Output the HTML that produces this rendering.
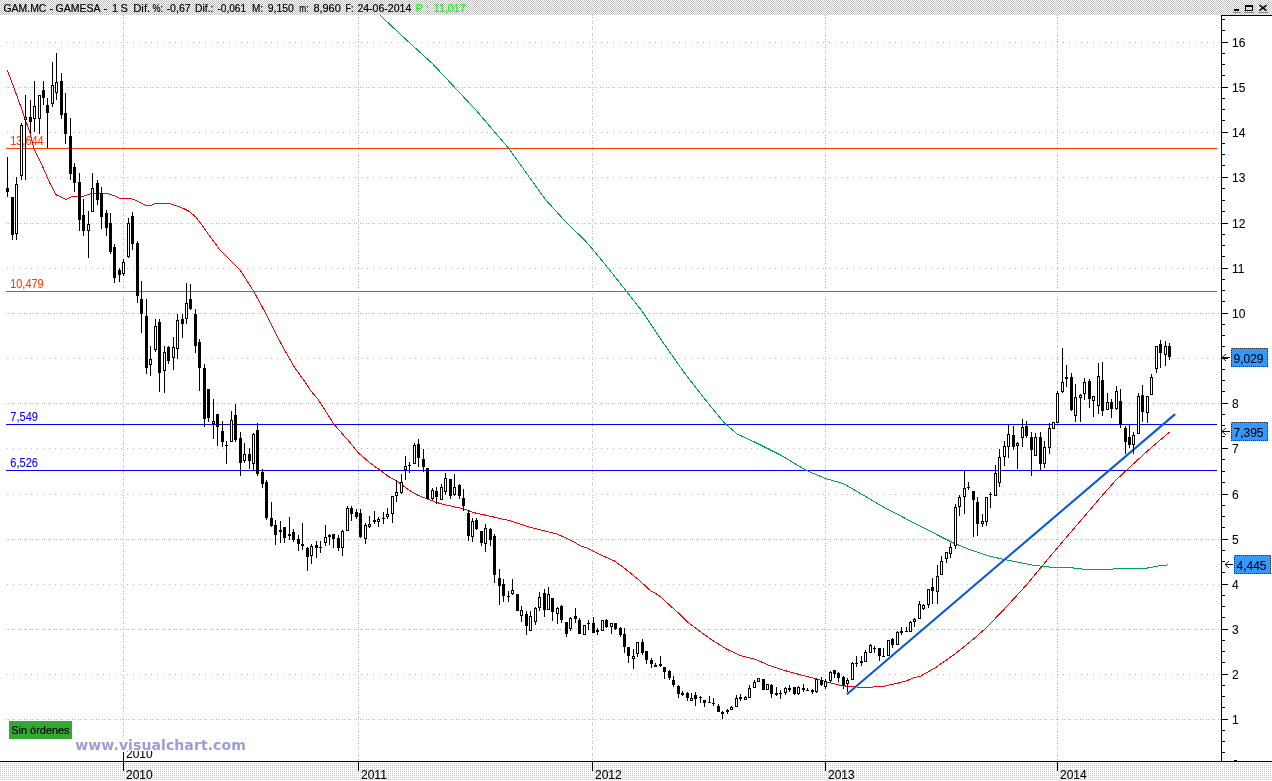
<!DOCTYPE html>
<html><head><meta charset="utf-8"><title>GAM.MC - GAMESA</title>
<style>
html,body{margin:0;padding:0;background:#fff;overflow:hidden}
svg{display:block;position:absolute;left:0;top:0;will-change:transform}
text{font-family:"Liberation Sans",Arial,sans-serif;font-size:12px;color:#000;fill:currentColor;stroke:currentColor;stroke-width:0.08px}
.h{font-size:11px;stroke-width:0.2px}
.wm{font-family:"DejaVu Sans","Liberation Sans",sans-serif;font-weight:bold;font-size:14px;color:#9c9cda;stroke:none}
</style></head><body>
<svg width="1272" height="781" viewBox="0 0 1272 781" shape-rendering="crispEdges">
<defs>
<pattern id="chk" width="2" height="2" patternUnits="userSpaceOnUse"><rect width="2" height="2" fill="#fff"/><rect width="1" height="1" fill="#c0c0c0"/><rect x="1" y="1" width="1" height="1" fill="#c0c0c0"/></pattern>
<pattern id="dot" width="2" height="2" patternUnits="userSpaceOnUse"><rect width="2" height="2" fill="#fff"/><rect x="0" y="1" width="1" height="1" fill="#c8c8c8"/></pattern>
<clipPath id="yc"><rect x="120" y="751" width="40" height="10"/></clipPath>
</defs>
<rect width="1272" height="781" fill="#fff"/>
<rect x="0" y="0" width="1272" height="15" fill="url(#chk)"/>
<rect x="0" y="762" width="1272" height="19" fill="url(#dot)"/>
<g stroke="#c0c0c0" stroke-width="1" fill="none">
<line x1="6" y1="719.5" x2="1221" y2="719.5" stroke-dasharray="1 1 1 3"/><line x1="7" y1="674.5" x2="1221" y2="674.5" stroke-dasharray="1 5"/><line x1="6" y1="629.5" x2="1221" y2="629.5" stroke-dasharray="1 1 1 3"/><line x1="7" y1="584.5" x2="1221" y2="584.5" stroke-dasharray="1 5"/><line x1="6" y1="539.5" x2="1221" y2="539.5" stroke-dasharray="1 1 1 3"/><line x1="7" y1="494.5" x2="1221" y2="494.5" stroke-dasharray="1 5"/><line x1="7" y1="448.5" x2="1221" y2="448.5" stroke-dasharray="1 5"/><line x1="6" y1="403.5" x2="1221" y2="403.5" stroke-dasharray="1 1 1 3"/><line x1="7" y1="358.5" x2="1221" y2="358.5" stroke-dasharray="1 5"/><line x1="6" y1="313.5" x2="1221" y2="313.5" stroke-dasharray="1 1 1 3"/><line x1="7" y1="268.5" x2="1221" y2="268.5" stroke-dasharray="1 5"/><line x1="6" y1="223.5" x2="1221" y2="223.5" stroke-dasharray="1 1 1 3"/><line x1="7" y1="177.5" x2="1221" y2="177.5" stroke-dasharray="1 5"/><line x1="7" y1="132.5" x2="1221" y2="132.5" stroke-dasharray="1 5"/><line x1="6" y1="87.5" x2="1221" y2="87.5" stroke-dasharray="1 1 1 3"/><line x1="7" y1="42.5" x2="1221" y2="42.5" stroke-dasharray="1 5"/><line x1="123.5" y1="15" x2="123.5" y2="761" stroke-dasharray="1 1 1 3"/><line x1="358.5" y1="15" x2="358.5" y2="761" stroke-dasharray="1 1 1 3"/><line x1="592.5" y1="15" x2="592.5" y2="761" stroke-dasharray="1 1 1 3"/><line x1="825.5" y1="15" x2="825.5" y2="761" stroke-dasharray="1 1 1 3"/><line x1="1057.5" y1="15" x2="1057.5" y2="761" stroke-dasharray="1 1 1 3"/>
</g>
<rect x="75" y="738" width="171" height="14" fill="#fff"/>
<!-- horizontal levels -->
<rect x="6" y="148" width="1211" height="1" fill="#ff3c00"/>
<rect x="6" y="291" width="1211" height="1" fill="#ff3c00"/>
<rect x="6" y="424" width="1211" height="1" fill="#0000ff"/>
<rect x="6" y="470" width="1211" height="1" fill="#0000ff"/>
<g style="font-size:12px"><text x="10.2" y="144.7" textLength="33.5" lengthAdjust="spacingAndGlyphs" style="color:#ff3c00">13,644</text>
<text x="10.2" y="287.9" textLength="33.5" lengthAdjust="spacingAndGlyphs" style="color:#ff3c00">10,479</text>
<text x="10.3" y="420.7" textLength="27.6" lengthAdjust="spacingAndGlyphs" style="color:#0000ff">7,549</text>
<text x="10.3" y="466.7" textLength="27.6" lengthAdjust="spacingAndGlyphs" style="color:#0000ff">6,526</text></g>
<!-- moving averages -->
<polyline points="379.5,14.7 404.0,37.7 432.3,63.5 454.3,87.0 476.4,110.6 495.2,132.6 509.4,149.3 526.7,173.5 545.5,199.6 567.5,223.8 584.7,240.0 597.4,255.0 608.3,268.3 625.6,290.3 642.9,312.3 661.8,340.6 683.8,372.1 705.8,400.4 724.7,423.3 737.2,434.0 756.1,442.8 781.3,455.4 806.4,470.5 825.3,478.4 843.5,483.7 857.7,491.9 882.9,506.7 905.0,518.3 923.9,528.1 939.0,535.7 954.0,543.2 969.2,549.4 989.9,556.4 1010.7,560.8 1033.3,565.3 1052.2,567.4 1071.0,567.7 1082.4,569.1 1112.5,569.1 1114.4,568.1 1147.0,568.1 1159.6,565.8 1168.4,564.8" fill="none" stroke="#00a550" stroke-width="1"/>
<polyline points="7.3,70.2 14.0,88.0 22.0,110.0 30.2,133.7 34.0,148.9 41.5,164.0 49.7,182.8 56.0,194.8 66.0,199.4 72.3,196.4 83.0,196.4 91.8,193.3 106.9,193.3 113.2,195.4 121.4,198.9 127.7,198.2 133.3,199.2 145.9,205.5 150.9,205.5 155.5,203.2 168.9,203.2 175.5,205.5 181.1,207.4 188.7,211.1 196.2,217.4 202.8,226.2 209.4,235.7 217.0,245.7 219.8,250.0 228.3,258.5 240.6,270.8 253.8,291.5 265.1,312.3 275.5,333.0 284.0,349.1 294.3,367.0 305.7,383.0 310.2,390.0 318.1,399.4 334.2,424.5 350.2,442.8 358.7,453.2 370.9,463.6 381.3,471.1 387.9,476.2 396.4,480.6 408.7,490.0 418.1,495.3 427.5,499.1 437.0,502.6 446.4,505.1 463.2,508.7 474.5,512.8 487.7,515.7 510.4,520.8 527.4,526.6 544.3,530.8 557.5,534.2 572.6,541.1 580.2,545.8 587.7,548.3 596.2,552.8 614.2,560.9 623.6,567.5 638.7,579.8 650.0,590.2 659.4,595.8 670.8,606.2 680.0,614.5 687.5,622.0 698.9,630.6 712.0,640.0 727.2,649.4 740.4,655.5 755.5,659.4 770.6,666.0 785.7,670.8 800.8,674.9 815.8,678.7 830.9,683.0 842.3,685.7 853.6,686.8 866.8,687.5 883.8,686.2 897.0,683.4 906.4,680.9 914.0,677.7 920.0,676.4 936.4,667.0 955.2,653.8 974.1,638.5 987.1,627.0 1005.0,608.3 1025.8,585.7 1044.6,563.0 1065.4,538.5 1082.4,518.7 1099.3,498.9 1116.0,480.0 1145.0,453.2 1169.5,432.0" fill="none" stroke="#ff0000" stroke-width="1"/>
<!-- trend line -->
<line x1="847.5" y1="693.8" x2="1174.5" y2="414.6" stroke="#0a5ad6" stroke-width="2.1" shape-rendering="auto" stroke-linecap="round"/>
<!-- candles -->
<path d="M7 157h1v40h-1zM6 188h3v4h-3zM12 197h1v43h-1zM11 197h3v38h-3zM16 177h1v63h-1zM15 184h3v50h-3zM21 123h1v57h-1zM20 125h3v51h-3zM25 95h1v85h-1zM24 117h3v3h-3zM30 100h1v34h-1zM29 117h3v5h-3zM34 81h1v51h-1zM33 106h3v13h-3zM39 95h1v39h-1zM38 95h3v24h-3zM43 81h1v24h-1zM42 90h3v8h-3zM47 98h1v50h-1zM46 105h3v8h-3zM52 62h1v45h-1zM51 85h3v19h-3zM56 53h1v47h-1zM55 82h3v11h-3zM61 73h1v46h-1zM60 81h3v34h-3zM65 93h1v51h-1zM64 113h3v21h-3zM70 118h1v62h-1zM69 136h3v38h-3zM74 163h1v29h-1zM73 167h3v16h-3zM79 173h1v58h-1zM78 182h3v38h-3zM83 199h1v37h-1zM82 215h3v16h-3zM88 211h1v47h-1zM87 224h3v7h-3zM92 173h1v39h-1zM91 188h3v24h-3zM97 180h1v25h-1zM96 183h3v17h-3zM101 187h1v42h-1zM100 193h3v24h-3zM106 210h1v26h-1zM105 213h3v15h-3zM110 213h1v41h-1zM109 223h3v29h-3zM114 244h1v39h-1zM113 247h3v31h-3zM119 268h1v14h-1zM118 270h3v5h-3zM123 259h1v17h-1zM122 262h3v12h-3zM128 218h1v40h-1zM127 223h3v34h-3zM132 212h1v38h-1zM131 216h3v28h-3zM137 241h1v62h-1zM136 243h3v53h-3zM141 281h1v52h-1zM140 299h3v15h-3zM146 299h1v75h-1zM145 316h3v52h-3zM150 346h1v30h-1zM149 359h3v6h-3zM155 319h1v33h-1zM154 326h3v24h-3zM159 319h1v73h-1zM158 322h3v51h-3zM164 346h1v47h-1zM163 352h3v19h-3zM168 346h1v18h-1zM167 347h3v14h-3zM173 337h1v33h-1zM172 347h3v11h-3zM177 314h1v45h-1zM176 320h3v29h-3zM182 314h1v24h-1zM181 319h3v5h-3zM186 283h1v41h-1zM185 303h3v16h-3zM190 284h1v26h-1zM189 299h3v10h-3zM195 309h1v44h-1zM194 314h3v32h-3zM199 339h1v52h-1zM198 342h3v26h-3zM204 364h1v63h-1zM203 368h3v51h-3zM208 389h1v33h-1zM207 389h3v29h-3zM213 399h1v40h-1zM212 421h3v3h-3zM217 414h1v32h-1zM216 414h3v13h-3zM222 421h1v26h-1zM221 431h3v11h-3zM226 441h1v23h-1zM225 445h3v1h-3zM231 411h1v31h-1zM230 420h3v22h-3zM235 404h1v38h-1zM234 415h3v25h-3zM240 432h1v44h-1zM239 438h3v25h-3zM244 443h1v20h-1zM243 454h3v7h-3zM249 448h1v21h-1zM248 454h3v7h-3zM253 433h1v37h-1zM252 434h3v30h-3zM257 423h1v53h-1zM256 430h3v44h-3zM262 469h1v19h-1zM261 472h3v12h-3zM266 480h1v40h-1zM265 482h3v36h-3zM271 502h1v25h-1zM270 518h3v8h-3zM275 520h1v25h-1zM274 525h3v10h-3zM280 521h1v22h-1zM279 530h3v2h-3zM284 527h1v16h-1zM283 527h3v11h-3zM289 517h1v23h-1zM288 534h3v2h-3zM293 529h1v13h-1zM292 532h3v8h-3zM298 535h1v16h-1zM297 539h3v5h-3zM302 523h1v27h-1zM301 544h3v2h-3zM307 547h1v24h-1zM306 548h3v9h-3zM311 544h1v20h-1zM310 546h3v10h-3zM316 541h1v17h-1zM315 545h3v3h-3zM320 541h1v12h-1zM319 547h3v1h-3zM325 525h1v21h-1zM324 537h3v6h-3zM329 534h1v11h-1zM328 535h3v2h-3zM333 534h1v14h-1zM332 534h3v5h-3zM338 535h1v16h-1zM337 538h3v10h-3zM342 530h1v26h-1zM341 531h3v17h-3zM347 506h1v25h-1zM346 508h3v23h-3zM351 506h1v15h-1zM350 508h3v6h-3zM356 509h1v10h-1zM355 512h3v5h-3zM360 509h1v29h-1zM359 513h3v24h-3zM365 523h1v21h-1zM364 525h3v14h-3zM369 516h1v12h-1zM368 524h3v3h-3zM374 511h1v13h-1zM373 520h3v2h-3zM378 517h1v10h-1zM377 519h3v3h-3zM383 512h1v12h-1zM382 518h3v1h-3zM387 508h1v11h-1zM386 514h3v3h-3zM392 496h1v27h-1zM391 496h3v18h-3zM396 480h1v22h-1zM395 492h3v4h-3zM401 474h1v20h-1zM400 482h3v11h-3zM405 456h1v24h-1zM404 466h3v4h-3zM409 462h1v11h-1zM408 465h3v1h-3zM414 443h1v21h-1zM413 445h3v19h-3zM418 439h1v28h-1zM417 444h3v14h-3zM423 449h1v23h-1zM422 459h3v8h-3zM427 468h1v31h-1zM426 468h3v31h-3zM432 488h1v12h-1zM431 490h3v9h-3zM436 487h1v17h-1zM435 491h3v6h-3zM441 484h1v16h-1zM440 487h3v13h-3zM445 473h1v22h-1zM444 478h3v14h-3zM450 479h1v20h-1zM449 479h3v17h-3zM454 474h1v22h-1zM453 487h3v8h-3zM459 484h1v15h-1zM458 485h3v11h-3zM463 489h1v22h-1zM462 498h3v8h-3zM468 510h1v31h-1zM467 513h3v23h-3zM472 518h1v24h-1zM471 521h3v16h-3zM476 518h1v12h-1zM475 520h3v9h-3zM481 531h1v15h-1zM480 531h3v12h-3zM485 524h1v28h-1zM484 528h3v16h-3zM490 528h1v18h-1zM489 529h3v11h-3zM494 534h1v49h-1zM493 536h3v39h-3zM499 569h1v36h-1zM498 578h3v8h-3zM503 579h1v23h-1zM502 584h3v12h-3zM508 591h1v11h-1zM507 596h3v1h-3zM512 579h1v16h-1zM511 590h3v4h-3zM517 594h1v17h-1zM516 594h3v17h-3zM521 606h1v16h-1zM520 610h3v6h-3zM526 611h1v24h-1zM525 614h3v12h-3zM530 611h1v20h-1zM529 616h3v15h-3zM535 607h1v18h-1zM534 608h3v14h-3zM539 592h1v19h-1zM538 597h3v11h-3zM544 589h1v28h-1zM543 593h3v17h-3zM548 587h1v23h-1zM547 594h3v16h-3zM552 598h1v23h-1zM551 598h3v14h-3zM557 607h1v17h-1zM556 608h3v6h-3zM561 605h1v18h-1zM560 606h3v14h-3zM566 622h1v15h-1zM565 622h3v12h-3zM570 617h1v14h-1zM569 618h3v11h-3zM575 608h1v15h-1zM574 616h3v3h-3zM579 618h1v16h-1zM578 620h3v14h-3zM584 625h1v10h-1zM583 625h3v10h-3zM588 620h1v10h-1zM587 623h3v1h-3zM593 617h1v16h-1zM592 623h3v10h-3zM597 628h1v7h-1zM596 630h3v2h-3zM602 620h1v11h-1zM601 620h3v11h-3zM606 619h1v9h-1zM605 620h3v7h-3zM611 623h1v11h-1zM610 623h3v4h-3zM615 623h1v7h-1zM614 623h3v6h-3zM620 627h1v10h-1zM619 628h3v7h-3zM624 628h1v25h-1zM623 634h3v13h-3zM628 647h1v16h-1zM627 647h3v9h-3zM633 649h1v20h-1zM632 656h3v3h-3zM637 642h1v15h-1zM636 642h3v12h-3zM642 639h1v16h-1zM641 642h3v11h-3zM646 651h1v13h-1zM645 651h3v9h-3zM651 658h1v10h-1zM650 660h3v4h-3zM655 663h1v4h-1zM654 665h3v2h-3zM660 656h1v11h-1zM659 664h3v2h-3zM664 667h1v12h-1zM663 667h3v5h-3zM669 670h1v10h-1zM668 671h3v7h-3zM673 676h1v11h-1zM672 680h3v5h-3zM678 685h1v13h-1zM677 686h3v8h-3zM682 691h1v5h-1zM681 693h3v2h-3zM687 692h1v9h-1zM686 693h3v5h-3zM691 693h1v8h-1zM690 698h3v3h-3zM695 692h1v14h-1zM694 695h3v4h-3zM700 696h1v7h-1zM699 697h3v1h-3zM704 700h1v7h-1zM703 700h3v3h-3zM709 696h1v7h-1zM708 702h3v1h-3zM713 698h1v8h-1zM712 703h3v1h-3zM718 704h1v8h-1zM717 706h3v6h-3zM722 711h1v8h-1zM721 712h3v2h-3zM727 709h1v5h-1zM726 710h3v2h-3zM731 706h1v4h-1zM730 707h3v3h-3zM736 695h1v12h-1zM735 698h3v9h-3zM740 694h1v7h-1zM739 697h3v2h-3zM745 696h1v4h-1zM744 697h3v3h-3zM749 685h1v13h-1zM748 688h3v10h-3zM754 680h1v8h-1zM753 682h3v6h-3zM758 678h1v4h-1zM757 678h3v4h-3zM763 679h1v11h-1zM762 679h3v11h-3zM767 684h1v6h-1zM766 684h3v6h-3zM771 684h1v14h-1zM770 685h3v9h-3zM776 687h1v9h-1zM775 693h3v2h-3zM780 690h1v9h-1zM779 693h3v1h-3zM785 687h1v8h-1zM784 688h3v5h-3zM789 685h1v7h-1zM788 688h3v2h-3zM794 687h1v8h-1zM793 687h3v7h-3zM798 686h1v9h-1zM797 687h3v7h-3zM803 684h1v8h-1zM802 688h3v2h-3zM807 688h1v3h-1zM806 690h3v1h-3zM812 689h1v5h-1zM811 690h3v2h-3zM816 678h1v15h-1zM815 679h3v13h-3zM821 677h1v9h-1zM820 680h3v5h-3zM825 679h1v10h-1zM824 681h3v6h-3zM830 671h1v12h-1zM829 672h3v9h-3zM834 670h1v8h-1zM833 670h3v4h-3zM838 672h1v10h-1zM837 673h3v5h-3zM843 676h1v13h-1zM842 677h3v8h-3zM847 678h1v14h-1zM846 680h3v4h-3zM852 662h1v18h-1zM851 663h3v17h-3zM856 656h1v11h-1zM855 663h3v1h-3zM861 656h1v10h-1zM860 661h3v2h-3zM865 650h1v12h-1zM864 652h3v10h-3zM870 644h1v9h-1zM869 645h3v8h-3zM874 646h1v7h-1zM873 648h3v1h-3zM879 648h1v13h-1zM878 648h3v8h-3zM883 648h1v9h-1zM882 656h3v1h-3zM888 640h1v16h-1zM887 640h3v16h-3zM892 638h1v10h-1zM891 639h3v6h-3zM897 631h1v14h-1zM896 632h3v13h-3zM901 627h1v8h-1zM900 631h3v2h-3zM906 627h1v5h-1zM905 631h3v1h-3zM910 621h1v11h-1zM909 622h3v10h-3zM914 618h1v9h-1zM913 619h3v3h-3zM919 601h1v18h-1zM918 604h3v15h-3zM923 604h1v6h-1zM922 605h3v4h-3zM928 589h1v19h-1zM927 589h3v16h-3zM932 578h1v26h-1zM931 587h3v4h-3zM937 565h1v39h-1zM936 576h3v16h-3zM941 556h1v19h-1zM940 561h3v14h-3zM946 552h1v11h-1zM945 552h3v7h-3zM950 543h1v15h-1zM949 547h3v7h-3zM955 504h1v45h-1zM954 507h3v39h-3zM959 495h1v21h-1zM958 497h3v10h-3zM964 471h1v43h-1zM963 488h3v9h-3zM968 482h1v8h-1zM967 487h3v1h-3zM973 491h1v46h-1zM972 491h3v9h-3zM977 497h1v39h-1zM976 502h3v22h-3zM982 514h1v13h-1zM981 521h3v3h-3zM986 497h1v29h-1zM985 497h3v25h-3zM990 492h1v16h-1zM989 494h3v1h-3zM995 465h1v31h-1zM994 473h3v23h-3zM999 449h1v38h-1zM998 457h3v26h-3zM1004 441h1v25h-1zM1003 446h3v11h-3zM1008 425h1v33h-1zM1007 434h3v13h-3zM1013 426h1v24h-1zM1012 435h3v12h-3zM1017 442h1v27h-1zM1016 443h3v3h-3zM1022 419h1v28h-1zM1021 427h3v11h-3zM1026 421h1v17h-1zM1025 426h3v10h-3zM1031 432h1v44h-1zM1030 437h3v13h-3zM1035 433h1v23h-1zM1034 437h3v19h-3zM1040 432h1v38h-1zM1039 437h3v27h-3zM1044 441h1v27h-1zM1043 447h3v17h-3zM1049 423h1v31h-1zM1048 428h3v20h-3zM1053 422h1v7h-1zM1052 422h3v7h-3zM1057 391h1v32h-1zM1056 393h3v30h-3zM1062 348h1v45h-1zM1061 382h3v10h-3zM1066 365h1v22h-1zM1065 377h3v2h-3zM1071 373h1v38h-1zM1070 377h3v33h-3zM1075 384h1v38h-1zM1074 397h3v19h-3zM1080 394h1v28h-1zM1079 395h3v3h-3zM1084 378h1v22h-1zM1083 382h3v12h-3zM1089 379h1v29h-1zM1088 381h3v18h-3zM1093 396h1v21h-1zM1092 396h3v5h-3zM1098 363h1v51h-1zM1097 376h3v30h-3zM1102 362h1v54h-1zM1101 380h3v31h-3zM1107 393h1v17h-1zM1106 402h3v8h-3zM1111 399h1v19h-1zM1110 402h3v7h-3zM1116 386h1v24h-1zM1115 391h3v18h-3zM1120 389h1v39h-1zM1119 401h3v23h-3zM1125 426h1v28h-1zM1124 428h3v14h-3zM1129 425h1v23h-1zM1128 437h3v8h-3zM1133 432h1v22h-1zM1132 435h3v10h-3zM1138 393h1v41h-1zM1137 396h3v38h-3zM1142 385h1v37h-1zM1141 395h3v17h-3zM1147 396h1v27h-1zM1146 396h3v17h-3zM1151 374h1v21h-1zM1150 377h3v18h-3zM1156 346h1v27h-1zM1155 346h3v23h-3zM1160 340h1v28h-1zM1159 344h3v9h-3zM1165 341h1v25h-1zM1164 346h3v9h-3zM1169 343h1v17h-1zM1168 346h3v11h-3z" fill="#000"/>
<path d="M16 185h1v48h-1zM21 126h1v49h-1zM25 118h1v1h-1zM34 107h1v11h-1zM39 96h1v22h-1zM52 86h1v17h-1zM56 83h1v9h-1zM88 225h1v5h-1zM92 189h1v22h-1zM123 263h1v10h-1zM128 224h1v32h-1zM150 360h1v4h-1zM155 327h1v22h-1zM164 353h1v17h-1zM173 348h1v9h-1zM177 321h1v27h-1zM186 304h1v14h-1zM213 422h1v1h-1zM231 421h1v20h-1zM244 455h1v5h-1zM253 435h1v28h-1zM311 547h1v8h-1zM325 538h1v4h-1zM342 532h1v15h-1zM347 509h1v21h-1zM365 526h1v12h-1zM369 525h1v1h-1zM378 520h1v1h-1zM387 515h1v1h-1zM392 497h1v16h-1zM396 493h1v2h-1zM401 483h1v9h-1zM405 467h1v2h-1zM414 446h1v17h-1zM432 491h1v7h-1zM441 488h1v11h-1zM445 479h1v12h-1zM454 488h1v6h-1zM472 522h1v14h-1zM485 529h1v14h-1zM512 591h1v2h-1zM521 611h1v4h-1zM530 617h1v13h-1zM535 609h1v12h-1zM539 598h1v9h-1zM548 595h1v14h-1zM557 609h1v4h-1zM570 619h1v9h-1zM584 626h1v8h-1zM602 621h1v9h-1zM611 624h1v2h-1zM633 657h1v1h-1zM637 643h1v10h-1zM691 699h1v1h-1zM731 708h1v1h-1zM736 699h1v7h-1zM745 698h1v1h-1zM749 689h1v8h-1zM754 683h1v4h-1zM758 679h1v2h-1zM767 685h1v4h-1zM785 689h1v3h-1zM798 688h1v5h-1zM816 680h1v11h-1zM825 682h1v4h-1zM830 673h1v7h-1zM847 681h1v2h-1zM852 664h1v15h-1zM865 653h1v8h-1zM870 646h1v6h-1zM888 641h1v14h-1zM897 633h1v11h-1zM910 623h1v8h-1zM914 620h1v1h-1zM919 605h1v13h-1zM923 606h1v2h-1zM928 590h1v14h-1zM937 577h1v14h-1zM941 562h1v12h-1zM946 553h1v5h-1zM950 548h1v5h-1zM955 508h1v37h-1zM959 498h1v8h-1zM964 489h1v7h-1zM982 522h1v1h-1zM986 498h1v23h-1zM995 474h1v21h-1zM999 458h1v24h-1zM1004 447h1v9h-1zM1008 435h1v11h-1zM1017 444h1v1h-1zM1022 428h1v9h-1zM1035 438h1v17h-1zM1044 448h1v15h-1zM1049 429h1v18h-1zM1053 423h1v5h-1zM1057 394h1v28h-1zM1062 383h1v8h-1zM1075 398h1v17h-1zM1080 396h1v1h-1zM1084 383h1v10h-1zM1093 397h1v3h-1zM1098 377h1v28h-1zM1107 403h1v6h-1zM1116 392h1v16h-1zM1133 436h1v8h-1zM1138 397h1v36h-1zM1147 397h1v15h-1zM1151 378h1v16h-1zM1156 347h1v21h-1zM1165 347h1v7h-1z" fill="#fff"/>
<!-- axes -->
<rect x="1221" y="15" width="1" height="747" fill="#000"/>
<rect x="1221" y="15" width="51" height="1" fill="#000"/>
<rect x="0" y="761" width="1272" height="1" fill="#000"/>
<path d="M1221 730h4v1h-4zM1221 741h4v1h-4zM1221 752h4v1h-4zM1221 719h7v1h-7zM1221 685h4v1h-4zM1221 696h4v1h-4zM1221 707h4v1h-4zM1221 674h7v1h-7zM1221 640h4v1h-4zM1221 651h4v1h-4zM1221 662h4v1h-4zM1221 629h7v1h-7zM1221 595h4v1h-4zM1221 606h4v1h-4zM1221 617h4v1h-4zM1221 584h7v1h-7zM1221 550h4v1h-4zM1221 561h4v1h-4zM1221 572h4v1h-4zM1221 539h7v1h-7zM1221 505h4v1h-4zM1221 516h4v1h-4zM1221 527h4v1h-4zM1221 494h7v1h-7zM1221 459h4v1h-4zM1221 471h4v1h-4zM1221 482h4v1h-4zM1221 448h7v1h-7zM1221 414h4v1h-4zM1221 425h4v1h-4zM1221 436h4v1h-4zM1221 403h7v1h-7zM1221 369h4v1h-4zM1221 380h4v1h-4zM1221 391h4v1h-4zM1221 358h7v1h-7zM1221 324h4v1h-4zM1221 335h4v1h-4zM1221 346h4v1h-4zM1221 313h7v1h-7zM1221 279h4v1h-4zM1221 290h4v1h-4zM1221 301h4v1h-4zM1221 268h7v1h-7zM1221 234h4v1h-4zM1221 245h4v1h-4zM1221 256h4v1h-4zM1221 223h7v1h-7zM1221 188h4v1h-4zM1221 200h4v1h-4zM1221 211h4v1h-4zM1221 177h7v1h-7zM1221 143h4v1h-4zM1221 154h4v1h-4zM1221 165h4v1h-4zM1221 132h7v1h-7zM1221 98h4v1h-4zM1221 109h4v1h-4zM1221 120h4v1h-4zM1221 87h7v1h-7zM1221 53h4v1h-4zM1221 64h4v1h-4zM1221 75h4v1h-4zM1221 42h7v1h-7zM1221 19h4v1h-4zM1221 30h4v1h-4z" fill="#000"/>
<text x="1232" y="724">1</text><text x="1232" y="679">2</text><text x="1232" y="634">3</text><text x="1232" y="589">4</text><text x="1232" y="544">5</text><text x="1232" y="499">6</text><text x="1232" y="453">7</text><text x="1232" y="408">8</text><text x="1232" y="363">9</text><text x="1232" y="318">10</text><text x="1232" y="273">11</text><text x="1232" y="228">12</text><text x="1232" y="182">13</text><text x="1232" y="137">14</text><text x="1232" y="92">15</text><text x="1232" y="47">16</text>
<rect x="123" y="761" width="1" height="10" fill="#000"/><text x="126" y="779">2010</text><rect x="358" y="761" width="1" height="10" fill="#000"/><text x="361" y="779">2011</text><rect x="592" y="761" width="1" height="10" fill="#000"/><text x="595" y="779">2012</text><rect x="825" y="761" width="1" height="10" fill="#000"/><text x="828" y="779">2013</text><rect x="1057" y="761" width="1" height="10" fill="#000"/><text x="1060" y="779">2014</text>
<rect x="123" y="752" width="1" height="19" fill="#000"/>
<g clip-path="url(#yc)"><text x="126" y="758">2010</text></g>
<rect x="1234" y="760" width="3" height="1" fill="#000"/>
<!-- value boxes -->
<rect x="1231" y="348" width="37" height="19" fill="#3399ff"/><rect x="1231.5" y="348.5" width="36" height="18" fill="none" stroke="#2a2a2a" stroke-dasharray="1 1"/><text x="1233.5" y="363">9,029</text><path d="M1222 357.5h8M1226 354.0L1222 357.5L1226 361.0" fill="none" stroke="#111" stroke-width="1" shape-rendering="auto"/>
<rect x="1231" y="422" width="37" height="19" fill="#3399ff"/><rect x="1231.5" y="422.5" width="36" height="18" fill="none" stroke="#2a2a2a" stroke-dasharray="1 1"/><text x="1233.5" y="437">7,395</text><path d="M1222 431.5h8M1226 428.0L1222 431.5L1226 435.0" fill="none" stroke="#111" stroke-width="1" shape-rendering="auto"/>
<rect x="1234" y="555" width="37" height="19" fill="#3399ff"/><rect x="1234.5" y="555.5" width="36" height="18" fill="none" stroke="#2a2a2a" stroke-dasharray="1 1"/><text x="1236.5" y="570">4,445</text><path d="M1225 564.5h8M1229 561.0L1225 564.5L1229 568.0" fill="none" stroke="#111" stroke-width="1" shape-rendering="auto"/>
<!-- header -->
<text class="h" x="3.5" y="11.5" textLength="42.9" lengthAdjust="spacingAndGlyphs">GAM.MC</text><text class="h" x="51.3" y="11.5" text-anchor="middle">-</text><text class="h" x="55.5" y="11.5" textLength="45.0" lengthAdjust="spacingAndGlyphs">GAMESA</text><text class="h" x="105.3" y="11.5" text-anchor="middle">-</text><text class="h" x="115.1" y="11.5" text-anchor="middle">1</text><text class="h" x="124.2" y="11.5" text-anchor="middle">S</text><text class="h" x="133.2" y="11.5" textLength="17.0" lengthAdjust="spacingAndGlyphs">Dif.</text><text class="h" x="152.6" y="11.5" textLength="10.5" lengthAdjust="spacingAndGlyphs">%:</text><text class="h" x="166.5" y="11.5" textLength="24.3" lengthAdjust="spacingAndGlyphs">-0,67</text><text class="h" x="195.0" y="11.5" textLength="18.4" lengthAdjust="spacingAndGlyphs">Dif.:</text><text class="h" x="217.4" y="11.5" textLength="28.7" lengthAdjust="spacingAndGlyphs">-0,061</text><text class="h" x="252.0" y="11.5" textLength="11.1" lengthAdjust="spacingAndGlyphs">M:</text><text class="h" x="267.7" y="11.5" textLength="26.2" lengthAdjust="spacingAndGlyphs">9,150</text><text class="h" x="299.3" y="11.5" textLength="9.2" lengthAdjust="spacingAndGlyphs">m:</text><text class="h" x="313.4" y="11.5" textLength="27.4" lengthAdjust="spacingAndGlyphs">8,960</text><text class="h" x="345.5" y="11.5" textLength="8.0" lengthAdjust="spacingAndGlyphs">F:</text><text class="h" x="357.4" y="11.5" textLength="53.9" lengthAdjust="spacingAndGlyphs">24-06-2014</text><text class="h" x="419.4" y="11.5" text-anchor="middle" style="color:#00ff00">P</text><text class="h" x="427.6" y="11.5" text-anchor="middle" style="color:#00ff00">:</text><text class="h" x="433.8" y="11.5" textLength="31.8" lengthAdjust="spacingAndGlyphs" style="color:#00ff00">11,017</text>
<!-- window buttons -->
<g fill="#000"><rect x="1234" y="9" width="5" height="2"/><rect x="1233" y="12" width="8" height="1" fill="#888"/>
<path d="M1245 5h8v6h-8zM1246 7v3h6v-3z" fill-rule="evenodd"/><rect x="1244" y="12" width="10" height="1" fill="#888"/>
<path d="M1259.5 5.2l7 5.4M1266.5 5.2l-7 5.4" stroke="#000" stroke-width="1.5" shape-rendering="auto"/><rect x="1258" y="12" width="10" height="1" fill="#888"/></g>
<!-- status -->
<rect x="9" y="721" width="63" height="18" fill="#33a833"/>
<text class="h" x="11.3" y="734" textLength="58.3" lengthAdjust="spacingAndGlyphs">Sin órdenes</text>
<text class="wm" x="75.3" y="750.2" textLength="170.5" lengthAdjust="spacing">www.visualchart.com</text>
</svg>
</body></html>
